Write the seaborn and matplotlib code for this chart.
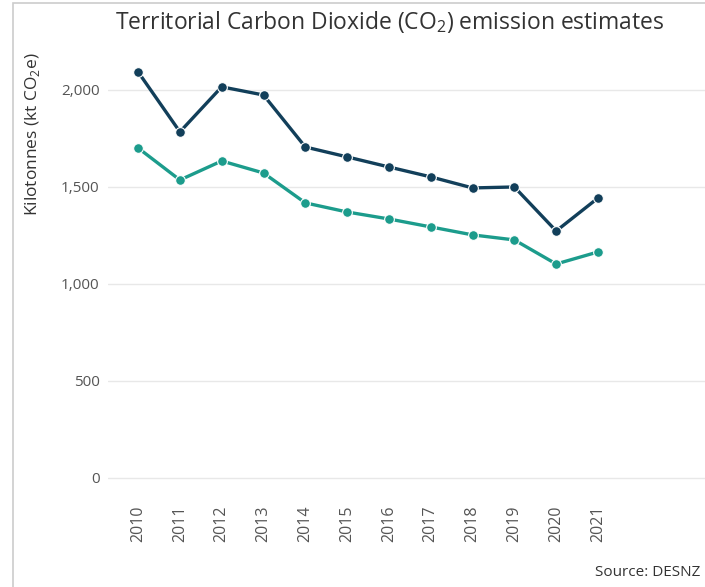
import pandas as pd
import seaborn as sns
import matplotlib.pyplot as plt
from matplotlib.ticker import FuncFormatter
from matplotlib.patches import Rectangle

years = list(range(2010, 2022))
dark_values = [2093, 1784, 2016, 1974, 1706, 1655, 1603, 1552, 1495, 1500, 1273, 1443]
teal_values = [1701, 1536, 1634, 1572, 1418, 1371, 1335, 1294, 1253, 1227, 1103, 1165]
series_names = ['Series A', 'Series B']

df = pd.DataFrame({
    'year': years * 2,
    'value': dark_values + teal_values,
    'series': [series_names[0]] * len(years) + [series_names[1]] * len(years),
})

sns.set_style('white')
plt.rcParams['font.family'] = ['Open Sans', 'DejaVu Sans']
plt.rcParams['mathtext.fontset'] = 'custom'
plt.rcParams['mathtext.rm'] = 'Open Sans'

fig = plt.figure(figsize=(7.05, 5.87), dpi=100)
ax = fig.add_axes([108 / 705, 97 / 587, 597 / 705, 440 / 587])

sns.lineplot(data=df, x='year', y='value', hue='series',
             palette=['#123F5A', '#1C9C8C'], marker='o', markersize=7,
             markeredgecolor='white', markeredgewidth=0.8, linewidth=2.4,
             legend=False, ax=ax)

ax.set_xlim(2009.28, 2023.56)
ax.set_ylim(-62, 2206)
ax.set_yticks([0, 500, 1000, 1500, 2000])
ax.yaxis.set_major_formatter(FuncFormatter(lambda v, p: f'{int(v):,}'))
ax.set_xticks(years)
ax.set_xticklabels([str(y) for y in years], rotation=90)
ax.grid(axis='y', color='#e8e8e8', linewidth=1)
for s in ax.spines.values():
    s.set_visible(False)
ax.tick_params(axis='both', length=0, colors='#555555')
ax.tick_params(axis='y', pad=6, labelsize=11)
ax.tick_params(axis='x', pad=11, labelsize=11.5)
ax.set_xlabel('')
ax.set_ylabel('Kilotonnes (kt CO$_2$e)', fontsize=12.5, color='#333333')
ax.yaxis.set_label_coords(-(108 - 42) / 597, 0.809)

fig.text(390 / 705, 1 - 22 / 587, 'Territorial Carbon Dioxide (CO$_2$) emission estimates',
         ha='center', va='center', fontsize=16.5, color='#333333')
fig.text(700 / 705, 1 - 572 / 587, 'Source: DESNZ', ha='right', va='center',
         fontsize=11, color='#333333')

fig.patches.append(Rectangle((13 / 705, -0.1), 2, 1.1 - 3 / 587, transform=fig.transFigure,
                             fill=False, edgecolor='#cccccc', linewidth=1.2))

fig.savefig('out.png', dpi=100)
